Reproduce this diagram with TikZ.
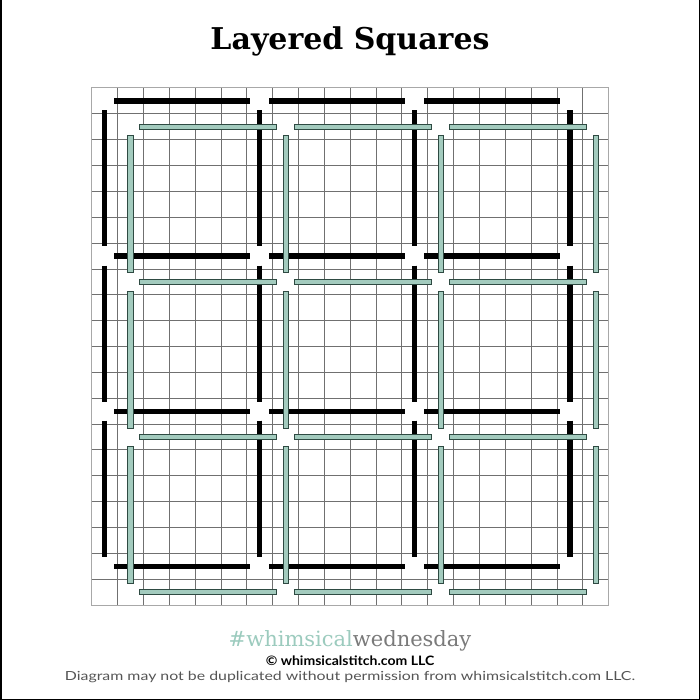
\documentclass[tikz,border=0pt]{standalone}
\usepackage{fontspec}
\newfontfamily\titlefont{DejaVu Serif}
\newfontfamily\latofont{Lato}
\definecolor{stitchgreen}{HTML}{A3CBBE}
\definecolor{stitchedge}{HTML}{2E4A42}
\definecolor{gridline}{HTML}{707070}
\definecolor{gridborder}{HTML}{A8A8A8}
\definecolor{hashgreen}{HTML}{9CCBBE}
\definecolor{hashgray}{HTML}{7A7A7A}
\definecolor{notegray}{HTML}{555555}
\begin{document}
\begin{tikzpicture}[x=1pt,y=-1pt,
  blackstitch/.style={line width=5.2pt, draw=black},
  greenstitch/.style={fill=stitchgreen, draw=stitchedge, line width=0.8pt},
  gridl/.style={draw=gridline, line width=0.9pt},
  gridb/.style={draw=gridborder, line width=1pt},
  frameline/.style={draw=black, line width=1.5pt}]
\useasboundingbox (0,0) rectangle (700,700);
\fill[white] (0,0) rectangle (700,700);
\draw[frameline] (0.75,0) -- (0.75,699.25) -- (699.25,699.25) -- (699.25,0);

\begin{scope}[shift={(91.7,88)}, x=25.85pt, y=-25.85pt]
  \foreach \i in {1,...,19} {
    \draw[gridl] (\i,0) -- (\i,20);
    \draw[gridl] (0,\i) -- (20,\i);
  }
  \draw[gridb] (0,0) rectangle (20,20);
  % black squares
  \foreach \ox in {0,6,12} {
    \foreach \oy in {0,6,12} {
      \draw[blackstitch] (\ox+0.87,\oy+0.5) -- (\ox+6.13,\oy+0.5);
      \draw[blackstitch] (\ox+0.87,\oy+6.5) -- (\ox+6.13,\oy+6.5);
      \draw[blackstitch] (\ox+0.5,\oy+0.87) -- (\ox+0.5,\oy+6.13);
      \draw[blackstitch] (\ox+6.5,\oy+0.87) -- (\ox+6.5,\oy+6.13);
    }
  }
  % green squares
  \foreach \ox in {0,6,12} {
    \foreach \oy in {0,6,12} {
      \draw[greenstitch] (\ox+1.85,\oy+1.4) rectangle (\ox+7.15,\oy+1.6);
      \draw[greenstitch] (\ox+1.85,\oy+7.4) rectangle (\ox+7.15,\oy+7.6);
      \draw[greenstitch] (\ox+1.4,\oy+1.85) rectangle (\ox+1.6,\oy+7.15);
      \draw[greenstitch] (\ox+7.4,\oy+1.85) rectangle (\ox+7.6,\oy+7.15);
    }
  }
\end{scope}

\node[anchor=base, inner sep=0pt, font=\titlefont\bfseries\fontsize{30}{30}\selectfont] (title) at (350,49.5) {Layered Squares};
\node[anchor=base, inner sep=0pt, font=\titlefont\fontsize{21}{21}\selectfont] (hashtag) at (350,646) {\textcolor{hashgreen}{\#whimsical}\textcolor{hashgray}{wednesday}};
\node[anchor=base, inner sep=0pt, font=\latofont\bfseries\fontsize{13}{13}\selectfont] (copyright) at (350,665) {\scalebox{1.08}[1]{© whimsicalstitch.com LLC}};
\node[anchor=base, inner sep=0pt, text=notegray, font=\latofont\fontsize{12.5}{12.5}\selectfont] (note) at (350,680) {\scalebox{1.27}[1]{Diagram may not be duplicated without permission from whimsicalstitch.com LLC.}};
\end{tikzpicture}
\end{document}
